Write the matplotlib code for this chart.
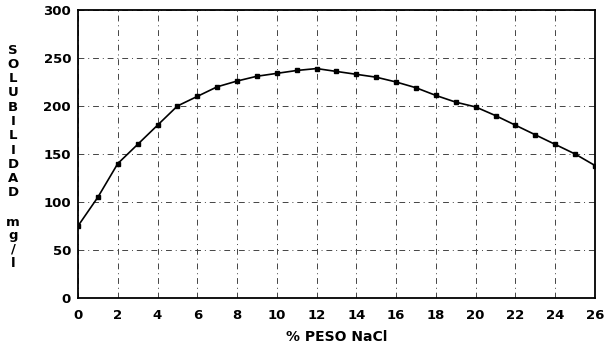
import matplotlib
matplotlib.use("Agg")
import matplotlib.pyplot as plt

# Solubility (mg/l) versus weight percent of NaCl
peso_nacl = list(range(0, 27))
solubilidad = [75, 105, 140, 160, 180, 200, 210, 220, 226, 231, 234, 237, 239,
               236, 233, 230, 225, 219, 211, 204, 199, 190, 180, 170, 160, 150, 138]

x_ticks = list(range(0, 27, 2))
y_ticks = list(range(0, 301, 50))
ylabel_main = "SOLUBILIDAD"
ylabel_unit = "mg/l"
xlabel = "% PESO NaCl"

plt.rcParams["font.family"] = ["DejaVu Sans"]
plt.rcParams["font.weight"] = "bold"

fig = plt.figure(figsize=(6.06, 3.51), dpi=100)
ax = fig.add_axes([0.1287, 0.151, 0.8531, 0.8205])

ax.plot(peso_nacl, solubilidad, color="black", lw=1.2, marker="s",
        markersize=2.2, markerfacecolor="black", markeredgecolor="black",
        zorder=3)

ax.set_xlim(0, 26)
ax.set_ylim(0, 300)
ax.set_xticks(x_ticks)
ax.set_yticks(y_ticks)
ax.tick_params(axis="both", length=0, labelsize=9.5, colors="black")
ax.tick_params(axis="x", pad=8)
ax.tick_params(axis="y", pad=5)
for lab in ax.get_xticklabels() + ax.get_yticklabels():
    lab.set_fontweight("bold")

ax.grid(True, color="#444444", lw=0.7, linestyle=(0, (6, 4, 1, 4)))
for sp in ax.spines.values():
    sp.set_color("black")
    sp.set_linewidth(1.3)

ax.set_xlabel(xlabel, fontsize=10, fontweight="bold", labelpad=6)

# Vertical stacked y-axis label
W, H = 606, 351
x_px = 13
y0, step = 50, 14.3
for i, ch in enumerate(ylabel_main):
    fig.text(x_px / W, 1 - (y0 + i * step) / H, ch, ha="center", va="center",
             fontsize=9.5, fontweight="bold")
y1, step2 = 222, 13.7
for i, ch in enumerate(ylabel_unit):
    fig.text(x_px / W, 1 - (y1 + i * step2) / H, ch, ha="center", va="center",
             fontsize=9.5, fontweight="bold")

fig.savefig("out.png", dpi=100)
